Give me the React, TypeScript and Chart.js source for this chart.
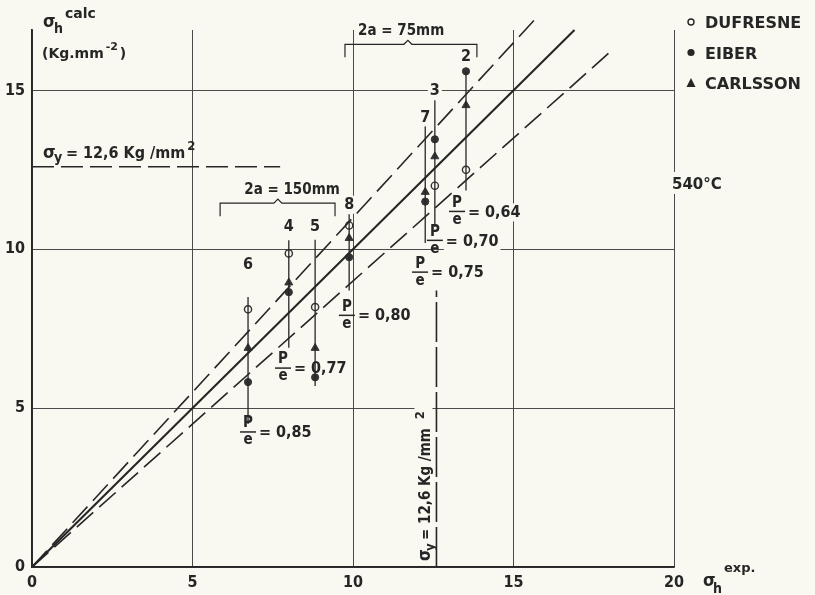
import React, { useEffect, useRef } from 'react';
import { Chart, registerables } from 'chart.js';

Chart.register(...registerables);

// ---- axes ----
const X_TICKS = [0, 5, 10, 15, 20];
const Y_TICKS = [0, 5, 10, 15];
const X_MAX = 20;
const Y_MAX = 16.9;

// ---- specimens (one vertical scatter line each) ----
const SPECIMENS = ['6', '4', '5', '8', '7', '3', '2'];
const SPECIMEN_X = [6.73, 8.0, 8.82, 9.88, 12.25, 12.55, 13.52];
const DUFRESNE: (number | null)[] = [8.11, 9.87, 8.18, 10.75, null, 12.0, 12.5];
const EIBER = [5.82, 8.65, 5.97, 9.75, 11.5, 13.46, 15.6];
const CARLSSON = [6.89, 8.95, 6.89, 10.35, 11.8, 12.92, 14.53];
const RANGE_TOP = [8.5, 10.28, 10.3, 11.1, 13.95, 14.7, 15.6];
const RANGE_BOTTOM = [4.5, 6.9, 5.7, 8.7, 10.2, 10.7, 11.85];
const LABEL_Y = [9.5, 10.72, 10.72, 11.4, 14.15, 14.97, 16.04];

// ---- reference lines  calc = k * exp ----
const RATIO_SLOPES = [1.1, 1.0, 0.9];
const RATIO_X_END = [15.7, 16.9, 18.0];

// ---- yield stress ----
const SIGMA_Y = 12.6;
const SIGMA_Y_H_END = 7.73;
const SIGMA_Y_V_END = 8.7;

// ---- p/e annotations ----
const PE_TEXT = ['0,85', '0,77', '0,80', '0,64', '0,70', '0,75'];
const PE_X = [6.73, 7.82, 9.81, 13.24, 12.55, 12.09];
const PE_Y = [4.25, 6.26, 7.92, 11.19, 10.28, 9.28];
const PE_GAP = [true, false, true, true, true, true];

// ---- crack length brackets ----
const BRACKET_TEXT = ['2a = 75mm', '2a = 150mm'];
const BRACKET_X0 = [9.75, 5.86];
const BRACKET_X1 = [13.86, 9.44];
const BRACKET_MID = [11.71, 7.66];
const BRACKET_Y = [16.45, 11.45];
const BRACKET_TEXT_X = [11.5, 8.1];

const LEGEND_NAMES = ['DUFRESNE', 'EIBER', 'CARLSSON'];

const BG = '#f9f9f1';
const INK = '#262626';
const GRID = '#4a4a4a';
const NARROW = '"Liberation Sans Narrow", "DejaVu Sans Condensed", "Roboto Condensed", Roboto, sans-serif';
const WIDE = '"DejaVu Sans", "Noto Sans", sans-serif';

export default function App() {
  const ref = useRef<HTMLCanvasElement>(null);

  useEffect(() => {
    document.body.style.margin = '0';
    const canvas = ref.current!;
    const datasets: any[] = [];

    RATIO_SLOPES.forEach((k, i) => {
      datasets.push({
        data: [{ x: 0, y: 0 }, { x: RATIO_X_END[i], y: k * RATIO_X_END[i] }],
        showLine: true,
        borderColor: INK,
        borderWidth: k === 1 ? 2.1 : 1.6,
        borderDash: k === 1 ? [] : [22, 8],
        pointRadius: 0,
        clip: false,
      });
    });

    datasets.push({
      data: [{ x: 0, y: SIGMA_Y }, { x: SIGMA_Y_H_END, y: SIGMA_Y }],
      showLine: true, borderColor: INK, borderWidth: 1.5, borderDash: [22, 7], pointRadius: 0,
    });
    datasets.push({
      data: [{ x: SIGMA_Y, y: 0 }, { x: SIGMA_Y, y: SIGMA_Y_V_END }],
      showLine: true, borderColor: INK, borderWidth: 1.6, borderDash: [40, 5], pointRadius: 0,
    });

    SPECIMEN_X.forEach((x, i) => {
      datasets.push({
        data: [{ x, y: RANGE_TOP[i] }, { x, y: RANGE_BOTTOM[i] }],
        showLine: true, borderColor: INK, borderWidth: 1.3, pointRadius: 0,
      });
    });

    const pts = (arr: (number | null)[]) =>
      SPECIMEN_X.map((x, i) => (arr[i] == null ? null : { x, y: arr[i] as number })).filter(Boolean);

    datasets.push({
      data: pts(EIBER), pointStyle: 'circle', pointRadius: 3.6,
      pointBackgroundColor: '#333', pointBorderColor: '#333', pointBorderWidth: 1,
    });
    datasets.push({
      data: pts(CARLSSON), pointStyle: 'triangle', pointRadius: 4.6,
      pointBackgroundColor: '#333', pointBorderColor: '#333', pointBorderWidth: 1,
    });
    datasets.push({
      data: pts(DUFRESNE), pointStyle: 'circle', pointRadius: 3.6,
      pointBackgroundColor: BG, pointBorderColor: '#333', pointBorderWidth: 1.4,
    });

    const annotate = {
      id: 'annotate',
      beforeDraw(chart: any) {
        const c = chart.ctx;
        c.save();
        c.fillStyle = BG;
        c.fillRect(0, 0, chart.width, chart.height);
        c.restore();
      },
      afterDatasetsDraw(chart: any) {
        const c: CanvasRenderingContext2D = chart.ctx;
        const px = (v: number) => chart.scales.x.getPixelForValue(v);
        const py = (v: number) => chart.scales.y.getPixelForValue(v);
        const text = (s: string, x: number, y: number, font: string, align: CanvasTextAlign = 'left', base: CanvasTextBaseline = 'alphabetic', gap = false) => {
          c.font = font;
          c.textAlign = align;
          c.textBaseline = base;
          if (gap) {
            const w = c.measureText(s).width;
            const x0 = align === 'center' ? x - w / 2 : align === 'right' ? x - w : x;
            c.fillStyle = BG;
            c.fillRect(x0 - 2, y - 9, w + 4, 18);
          }
          c.fillStyle = INK;
          c.fillText(s, x, y);
        };
        c.save();
        c.strokeStyle = INK;

        // specimen numbers
        SPECIMENS.forEach((s, i) => {
          text(s, px(SPECIMEN_X[i]), py(LABEL_Y[i]), `bold 16px ${NARROW}`, 'center', 'middle', true);
        });

        // p/e fractions
        PE_TEXT.forEach((s, i) => {
          const x = px(PE_X[i]);
          const y = py(PE_Y[i]);
          text('P', x, y - 1, `bold 15px ${NARROW}`, 'center', 'bottom');
          text('e', x, y + 1, `bold 15px ${NARROW}`, 'center', 'top');
          c.lineWidth = 1.5;
          c.beginPath();
          c.moveTo(x - 8, y);
          c.lineTo(x + 8, y);
          c.stroke();
          text('= ' + s, x + 11, y + 1, `bold 16px ${NARROW}`, 'left', 'middle', PE_GAP[i]);
        });

        // brackets
        BRACKET_TEXT.forEach((s, i) => {
          const x0 = px(BRACKET_X0[i]);
          const x1 = px(BRACKET_X1[i]);
          const xm = px(BRACKET_MID[i]);
          const y = py(BRACKET_Y[i]);
          c.lineWidth = 1.2;
          c.beginPath();
          c.moveTo(x0, y + 13);
          c.lineTo(x0, y);
          c.lineTo(xm - 4, y);
          c.lineTo(xm, y - 4);
          c.lineTo(xm + 4, y);
          c.lineTo(x1, y);
          c.lineTo(x1, y + 13);
          c.stroke();
          text(s, px(BRACKET_TEXT_X[i]), y - 9, `bold 15px ${NARROW}`, 'center', 'alphabetic');
        });

        // sigma_y horizontal label
        const ly = py(SIGMA_Y) - 9;
        const lx = px(0) + 11;
        text('σ', lx, ly, `bold 18px ${NARROW}`);
        text('y', lx + 11, ly + 4, `bold 14px ${NARROW}`);
        text('= 12,6 Kg /mm', lx + 23, ly, `bold 16px ${NARROW}`);
        c.font = `bold 16px ${NARROW}`;
        const w1 = c.measureText('= 12,6 Kg /mm').width;
        text('2', lx + 25 + w1, ly - 8, `bold 13px ${NARROW}`);

        // sigma_y vertical label (rotated)
        c.save();
        c.translate(px(SIGMA_Y) - 6, py(0) - 6);
        c.rotate(-Math.PI / 2);
        c.font = `bold 15px ${NARROW}`;
        const w2 = c.measureText('= 12,6 Kg /mm').width;
        c.fillStyle = BG;
        c.fillRect(-2, -16, w2 + 52, 18);
        text('σ', 0, 0, `bold 17px ${NARROW}`);
        text('y', 10, 4, `bold 13px ${NARROW}`);
        text('= 12,6 Kg /mm', 21, 0, `bold 15px ${NARROW}`);
        text('2', 30 + w2, -6, `bold 13px ${NARROW}`);
        c.restore();

        c.restore();
      },
      afterDraw(chart: any) {
        const c: CanvasRenderingContext2D = chart.ctx;
        const a = chart.chartArea;
        c.save();
        c.fillStyle = INK;
        c.textBaseline = 'alphabetic';
        c.textAlign = 'left';
        // y title
        c.font = `bold 18px ${NARROW}`;
        c.fillText('σ', a.left + 11, 27);
        c.font = `bold 14px ${NARROW}`;
        c.fillText('h', a.left + 22, 33);
        c.font = `bold 14px ${WIDE}`;
        c.fillText('calc', a.left + 33, 18);
        c.font = `bold 14px ${WIDE}`;
        c.fillText('(Kg.mm', a.left + 10, 58);
        let w = c.measureText('(Kg.mm').width;
        c.font = `bold 11px ${WIDE}`;
        c.fillText('-2', a.left + 12 + w, 50);
        c.font = `bold 14px ${WIDE}`;
        c.fillText(')', a.left + 26 + w, 58);
        // x title
        c.font = `bold 18px ${NARROW}`;
        c.fillText('σ', a.right + 29, 586);
        c.font = `bold 14px ${NARROW}`;
        c.fillText('h', a.right + 39, 593);
        c.font = `bold 13px ${WIDE}`;
        c.fillText('exp.', a.right + 50, 572);
        // 540 C
        c.font = `bold 15px ${WIDE}`;
        w = c.measureText('540°C').width;
        c.fillStyle = BG;
        c.fillRect(a.right - 3, 172, w + 4, 22);
        c.fillStyle = INK;
        c.fillText('540°C', a.right - 2, 189);
        // legend
        c.font = `bold 16px ${WIDE}`;
        LEGEND_NAMES.forEach((n, i) => {
          const y = 22 + i * 30.5;
          const mx = a.right + 17;
          c.fillStyle = INK;
          c.fillText(n, a.right + 31, y + 6);
          c.strokeStyle = INK;
          c.lineWidth = 1.4;
          c.beginPath();
          if (i === 0) {
            c.arc(mx, y, 3, 0, Math.PI * 2);
            c.stroke();
          } else if (i === 1) {
            c.arc(mx, y, 3.6, 0, Math.PI * 2);
            c.fill();
          } else {
            c.moveTo(mx, y - 5);
            c.lineTo(mx + 4.5, y + 4);
            c.lineTo(mx - 4.5, y + 4);
            c.closePath();
            c.fill();
          }
        });
        c.restore();
      },
    };

    const tickFont = { family: NARROW, size: 16, weight: 'bold' as const };

    const chart = new Chart(canvas, {
      type: 'scatter',
      data: { datasets },
      options: {
        animation: false,
        responsive: false,
        layout: { padding: { left: 0, right: 141, top: 30, bottom: 0 } },
        plugins: { legend: { display: false }, tooltip: { enabled: false } },
        scales: {
          x: {
            type: 'linear', min: 0, max: X_MAX,
            afterFit: (s: any) => { s.height = 28; },
            afterBuildTicks: (s: any) => { s.ticks = X_TICKS.map((v) => ({ value: v })); },
            grid: { color: GRID, lineWidth: 1, drawTicks: false },
            border: { color: INK, width: 1.8 },
            ticks: { padding: 6, color: INK, font: tickFont, maxRotation: 0, autoSkip: false, callback: (v: any) => String(v) },
          },
          y: {
            type: 'linear', min: 0, max: Y_MAX,
            afterFit: (s: any) => { s.width = 32; },
            afterBuildTicks: (s: any) => { s.ticks = Y_TICKS.map((v) => ({ value: v })); },
            grid: { color: GRID, lineWidth: 1, drawTicks: false },
            border: { color: INK, width: 1.8 },
            ticks: { padding: 7, color: INK, font: tickFont, autoSkip: false, callback: (v: any) => String(v) },
          },
        },
      },
      plugins: [annotate],
    });
    return () => chart.destroy();
  }, []);

  return (
    <div style={{ width: 815, height: 595 }}>
      <canvas ref={ref} width={815} height={595} style={{ display: 'block' }} />
    </div>
  );
}
